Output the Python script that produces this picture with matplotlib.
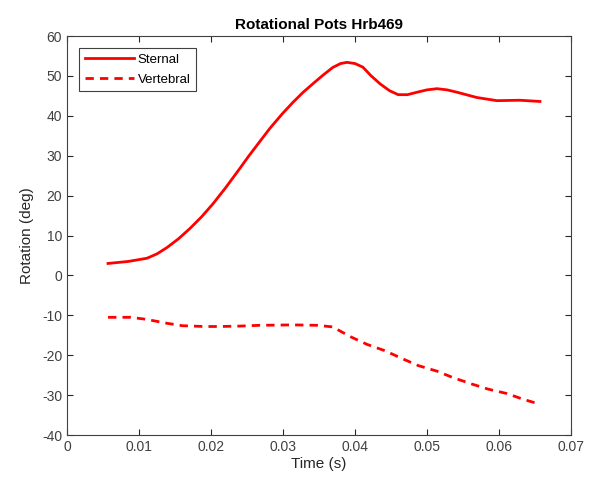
import numpy as np
import matplotlib.pyplot as plt

plt.rcParams['font.family'] = ['Liberation Sans', 'DejaVu Sans']
plt.rcParams['axes.unicode_minus'] = False

# Sternal rotation
t_sternal = [0.0057, 0.0085, 0.0111, 0.0125, 0.0139, 0.0155, 0.0171, 0.0187,
             0.0203, 0.0220, 0.0236, 0.0252, 0.0268, 0.0282, 0.0300, 0.0314,
             0.0328, 0.0342, 0.0355, 0.0369, 0.0380, 0.0389, 0.0400, 0.0411,
             0.0422, 0.0435, 0.0448, 0.0460, 0.0473, 0.0486, 0.0500, 0.0514,
             0.0528, 0.0542, 0.0569, 0.0597, 0.0629, 0.0657]
sternal = [3.0, 3.5, 4.3, 5.4, 7.0, 9.2, 11.8, 14.7,
           18.0, 21.9, 25.8, 29.8, 33.6, 36.9, 40.7, 43.4,
           45.9, 48.1, 50.1, 52.1, 53.1, 53.4, 53.1, 52.2,
           50.1, 48.0, 46.3, 45.3, 45.3, 45.9, 46.5, 46.8,
           46.5, 45.9, 44.6, 43.8, 43.9, 43.6]

# Vertebral rotation
t_vertebral = [0.0057, 0.0088, 0.0110, 0.0139, 0.0160, 0.0190, 0.0213, 0.0240,
               0.0268, 0.0314, 0.0347, 0.0369, 0.0393, 0.0417, 0.0442, 0.0465,
               0.0488, 0.0514, 0.0536, 0.0562, 0.0585, 0.0611, 0.0633, 0.0657]
vertebral = [-10.5, -10.5, -11.0, -12.0, -12.6, -12.8, -12.8, -12.7,
             -12.5, -12.4, -12.5, -12.9, -15.3, -17.3, -18.9, -20.8,
             -22.6, -24.0, -25.6, -27.2, -28.5, -29.6, -31.0, -32.3]

fig = plt.figure(figsize=(5.91, 4.84), dpi=100)
ax = fig.add_axes([0.1134, 0.1012, 0.8526, 0.8244])

ax.plot(t_sternal, sternal, color='#ff0000', lw=2, label='Sternal',
        solid_joinstyle='round')
ax.plot(t_vertebral, vertebral, color='#ff0000', lw=2, ls=(0, (3, 2.2)),
        label='Vertebral', dash_joinstyle='round')

ax.set_xlim(0, 0.07)
ax.set_ylim(-40, 60)
ax.set_xticks(np.arange(0, 0.071, 0.01))
ax.set_xticklabels(['0', '0.01', '0.02', '0.03', '0.04', '0.05', '0.06', '0.07'])
ax.set_yticks(np.arange(-40, 61, 10))

ax.tick_params(direction='in', top=True, right=True, length=4, width=0.8,
               labelsize=10, colors='#262626', labelcolor='#404040')
for s in ax.spines.values():
    s.set_color('#404040')
    s.set_linewidth(0.8)

ax.set_xlabel('Time (s)', fontsize=11, color='#262626', labelpad=2)
ax.set_ylabel('Rotation (deg)', fontsize=11, color='#262626', labelpad=6)
ax.set_title('Rotational Pots Hrb469', fontsize=11, fontweight='bold', pad=5)

leg = ax.legend(loc='upper left', fontsize=9.5, handlelength=3.7,
                fancybox=False, framealpha=1, edgecolor='#404040',
                borderaxespad=0.9, borderpad=0.45, labelspacing=0.55,
                handletextpad=0.3)
leg.get_frame().set_linewidth(0.8)

fig.savefig('out.png', dpi=100)
